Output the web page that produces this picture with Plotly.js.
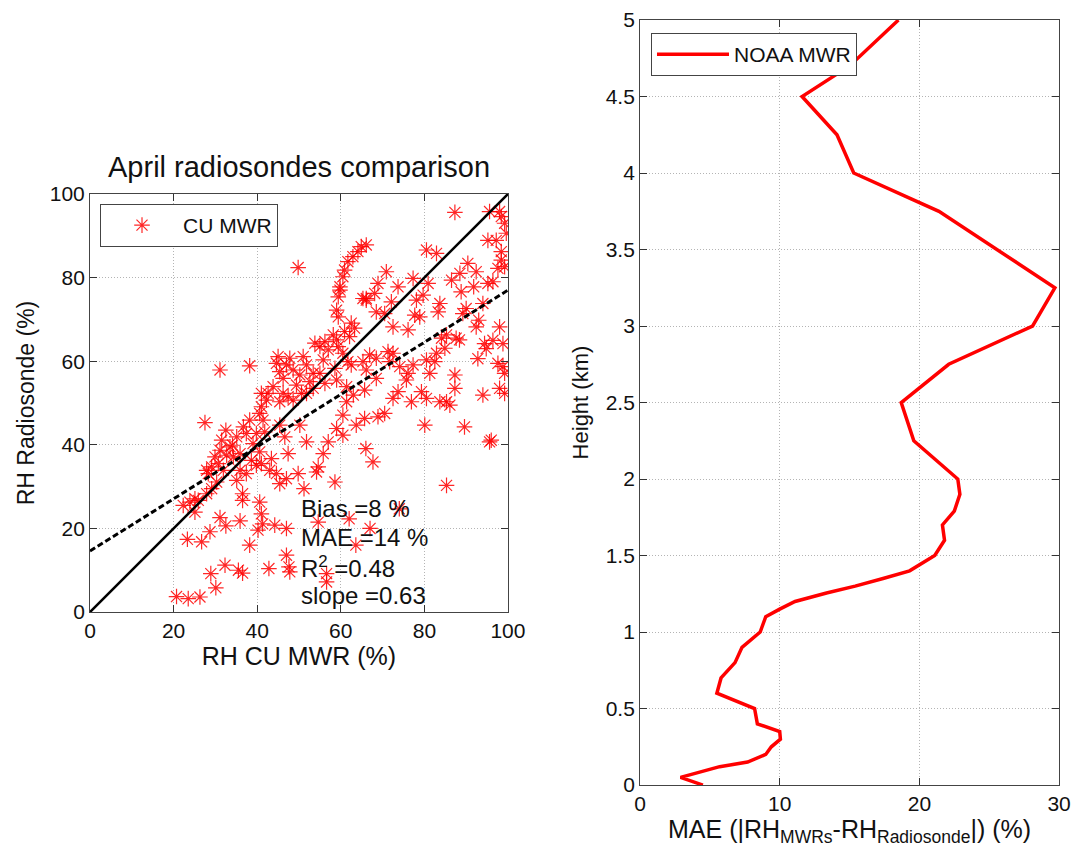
<!DOCTYPE html>
<html>
<head>
<meta charset="utf-8">
<script src="https://cdn.plot.ly/plotly-3.0.1.min.js"></script>
<style>html,body{margin:0;padding:0;background:#fff}#chart{width:1073px;height:856px}</style>
</head>
<body>
<div id="chart"></div>
<script>
// Scatter: RH CU MWR (%) vs RH Radiosonde (%)
const cuX = [20.7,23.5,26.3,30.1,28.9,32.3,35.5,36.5,42.8,47,47.6,47.8,56.6,56.6,23.3,26.7,28.7,31.1,32.5,35.9,38.2,36.5,36.5,40.6,41,40.2,41.3,44.2,47,51.2,54.6,62,63.6,67,74,85.3,
22.3,23.9,25.1,25.9,25.1,27.9,29.1,30.3,28.3,
27.5,27.9,29.1,29.9,31.1,31.5,32.5,33.5,34.3,35.1,35.9,36.7,37.4,38.2,39,39.8,40.6,41,41.4,41.8,35.9,37.4,35.1,31.9,30.7,32.7,34.1,38.6,39.8,41,40.6,43.4,43,44.6,45.4,47,49.8,47.4,46.6,45.4,50.2,51.8,54.6,54.2,55.8,57,58.6,59,60.5,60.5,63.7,66,67.7,65.7,
42.6,43.8,44.6,45,45.4,46.2,47,47.8,48.6,49.4,50.2,51,51.8,53.4,53.8,55,56.2,55.8,57,58.2,59,59.4,60.9,62.5,63.3,62.1,60.5,61.7,62.5,59,56.2,53.4,51.8,48.6,45.4,42.2,41,31.1,38.2,49.8,46.2,47.4,50.6,52.6,55,58.6,
59,59.4,59.8,60.5,60.9,61.7,62.9,64.1,64.9,66.1,59.4,59.8,
66.1,68.1,68.9,70.9,72.1,73.7,68.5,70.5,72.5,76.1,77.3,78.1,79.7,80.9,80.5,82.9,77.7,78.9,83.3,83.7,86.5,88.5,90.4,92.4,88.8,91.8,95.2,96.4,87.3,95.6,98,98.4,99.2,99.6,95.2,97.2,98.4,98.4,99.2,97.6,89.2,90,92.4,94,93,94.4,94.8,92.8,94,96,95.6,96.4,98,98.8,97.6,98.8,99.2,98,99.2,89.6,
72.5,71.7,74.1,76.1,77.3,75.7,73.7,72.5,70.5,68.9,80.5,81.3,82.5,82.9,84.1,84.9,85.3,87.6,88.4,87.3,87.3,85.3,86.1,83.7,80.5,79.3,76.9,80.1,71.3,65.7,68.5,65.3,66.9,65.3,66.1,
61.4,63,61.4,66.1,68.5];
const sondeY = [3.7,3.2,3.6,5.8,9.2,11.2,10,9.3,10.4,13.6,10.8,9.6,9.2,7.2,17.4,16.8,19.2,22.6,20.6,21.8,16,26.7,28.3,26.3,23.5,19.6,21.1,20.8,20,29.5,21.5,22.3,16,20,24.7,30.3,
25.5,26.3,27.1,26.7,23.9,28.3,29.5,31.1,33.1,
45.3,33.9,34.7,37.1,38.7,41.1,43.5,39.5,37.1,41.9,37.9,44.3,42.7,45.9,40.3,42.7,47.5,49.1,45.9,43.1,33.9,33.1,31.5,33.9,35.5,37.5,39.9,36.3,35.1,35.5,38.3,36.7,33.9,33.1,30.7,31.9,33.1,37.9,41.9,44.7,44.7,40.7,34.7,33.5,37.9,40.7,31.1,43.9,42.3,47.1,44.7,39.1,35.9,46.3,
52.3,53.9,59.5,61.1,57.5,55.9,59.1,60.7,57.9,54.3,56.7,61.1,59.1,57.1,64.3,63.5,64.7,60.3,62.7,66.3,65.1,63.5,67.1,69.1,67.9,65.9,61.9,59.9,59.1,55.5,54.7,53.5,52.3,50.7,50.3,50.7,52.3,57.9,58.9,82.4,52.3,51.5,52.3,55.1,57.1,58.3,
72.2,75.4,77.8,80.2,81.8,83.8,85,86.2,87.4,87.8,70.6,77,
75,76.2,78.6,81.4,74.2,77.8,71.8,71.4,68.2,67.5,79.8,74.6,75.8,78.6,86.6,85.8,71,70.6,71.8,73.8,79.4,81,83.4,81.4,76.6,77.8,78.6,79,95.6,95.8,95.8,94.6,93,90.6,88.9,88.9,86.2,84.2,82.6,82.2,71.4,72.6,68.2,73.8,69.8,64.2,63,60.6,51.9,41.1,40.7,65,68.2,64.2,59.5,58.7,57.1,53.5,52.3,44.3,
61.9,59.9,58.7,57.1,59.1,55.5,52.7,51.1,47.5,46.7,60.3,57.1,59.9,61.9,65.5,63.1,66.3,65.5,65.1,56.7,53.5,50.3,49.5,50.3,51.1,52.7,50.3,44.7,62.3,53.1,55.9,59.9,61.5,75,74.6,
53.9,51.9,50.3,57.9,60.7];
// Reference lines
const oneToOneX = [0,100];
const oneToOneY = [0,100];
const fitX = [0,100];
const fitY = [14.6,77.0];
// Profile: MAE (%) vs height (km)
const maeX = [4.5,2.9,5.7,7.7,9.0,9.4,10.05,10.0,8.4,8.2,5.5,5.8,6.8,7.3,8.6,9.0,10.0,11.1,13.35,15.4,17.4,19.3,21.1,21.8,21.65,22.5,22.9,22.75,19.6,18.7,22.1,28.1,29.7,21.4,19.45,15.3,14.1,11.6,15.0,18.5];
const heightY = [0,0.05,0.12,0.15,0.2,0.25,0.3,0.35,0.4,0.5,0.6,0.7,0.8,0.9,1.0,1.1,1.15,1.2,1.255,1.3,1.35,1.4,1.5,1.6,1.7,1.79,1.9,2.0,2.25,2.5,2.75,3.0,3.25,3.75,3.83,4.0,4.25,4.5,4.7,5.0];
// Fit statistics text
const statLines = ['Bias =8 %','MAE =14 %','R<sup>2</sup> =0.48','slope =0.63'];
const statY = [24.8,17.9,10.7,4.0];

const FONT = 'Liberation Sans, Arial, sans-serif';
const axBase = {
  showline:true, linecolor:'#444', linewidth:1, mirror:'ticks',
  ticks:'inside', ticklen:7, tickcolor:'#333',
  showgrid:true, gridcolor:'#b4b4b4', griddash:'1px,2px', gridwidth:1,
  zeroline:false, tickfont:{family:FONT,size:21,color:'#111'}
};

const traces = [
  {x:cuX, y:sondeY, type:'scatter', mode:'markers', name:'CU MWR', xaxis:'x', yaxis:'y', legend:'legend',
   marker:{symbol:'asterisk-open', size:13, color:'rgba(255,0,0,0.85)', line:{color:'rgba(255,0,0,0.85)', width:1.2}}},
  {x:oneToOneX, y:oneToOneY, type:'scatter', mode:'lines', showlegend:false, xaxis:'x', yaxis:'y',
   line:{color:'#000', width:2.5}},
  {x:fitX, y:fitY, type:'scatter', mode:'lines', showlegend:false, xaxis:'x', yaxis:'y',
   line:{color:'#000', width:3, dash:'6px,3px'}},
  {x:maeX, y:heightY, type:'scatter', mode:'lines', name:'NOAA MWR', xaxis:'x2', yaxis:'y2', legend:'legend2',
   line:{color:'#ff0000', width:3.5}}
];

const annotations = [
  {xref:'paper', yref:'paper', x:0.2787, y:0.805, text:'April radiosondes comparison', showarrow:false,
   font:{family:FONT,size:29,color:'#111'}, xanchor:'center', yanchor:'middle'}
];
statLines.forEach((t,i)=>annotations.push({xref:'x', yref:'y', x:50.0, y:statY[i], text:t, showarrow:false,
  xanchor:'left', yanchor:'middle', font:{family:FONT,size:24,color:'#111'}}));

const layout = {
  width:1073, height:856, margin:{l:0,r:0,t:0,b:0},
  paper_bgcolor:'#fff', plot_bgcolor:'#fff',
  font:{family:FONT, color:'#111'},
  xaxis: Object.assign({}, axBase, {domain:[0.0839,0.4734], range:[0,100], tickvals:[0,20,40,60,80,100], anchor:'y',
    title:{text:'RH CU MWR (%)', font:{family:FONT,size:25}, standoff:2}}),
  yaxis: Object.assign({}, axBase, {domain:[0.285,0.7734], range:[0,100], tickvals:[0,20,40,60,80,100], anchor:'x',
    title:{text:'RH Radiosonde (%)', font:{family:FONT,size:23}, standoff:8}}),
  xaxis2: Object.assign({}, axBase, {domain:[0.5965,0.987], range:[0,30], tickvals:[0,10,20,30], anchor:'y2',
    title:{text:'MAE (|RH<sub>MWRs</sub>-RH<sub>Radiosonde</sub>|) (%)', font:{family:FONT,size:25}, standoff:4}}),
  yaxis2: Object.assign({}, axBase, {domain:[0.0829,0.9766], range:[0,5], tickvals:[0,0.5,1,1.5,2,2.5,3,3.5,4,4.5,5], anchor:'x2',
    title:{text:'Height (km)', font:{family:FONT,size:22}, standoff:10}}),
  legend:{x:0.0932, y:0.7617, xanchor:'left', yanchor:'top', bgcolor:'#fff', bordercolor:'#444', borderwidth:1,
    font:{family:FONT,size:21}, itemwidth:72},
  legend2:{x:0.6067, y:0.9614, xanchor:'left', yanchor:'top', bgcolor:'#fff', bordercolor:'#444', borderwidth:1,
    font:{family:FONT,size:21}, itemwidth:72},
  annotations: annotations
};

Plotly.newPlot('chart', traces, layout, {displayModeBar:false, staticPlot:true});
</script>
</body>
</html>
